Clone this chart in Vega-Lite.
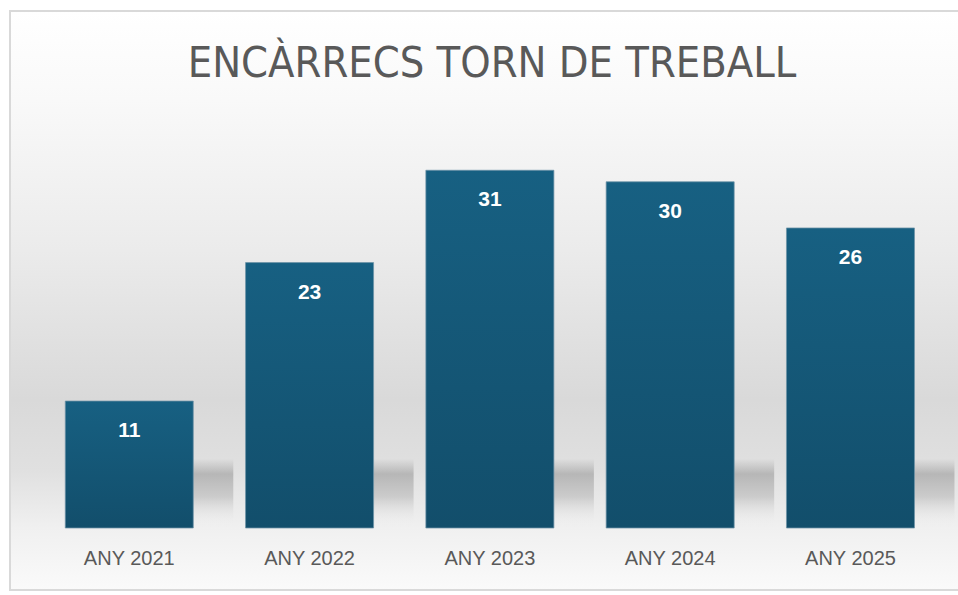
{
  "$schema": "https://vega.github.io/schema/vega-lite/v6.json",
  "width": 958,
  "height": 579,
  "autosize": {"type": "none"},
  "padding": {"left": 10, "top": 11, "right": -10, "bottom": 5},
  "background": "#ffffff",
  "title": {
    "text": "ENCÀRRECS TORN DE TREBALL",
    "font": "Liberation Sans Narrow, DejaVu Sans Condensed, sans-serif",
    "fontSize": 43,
    "fontWeight": "normal",
    "color": "#595959",
    "anchor": "middle",
    "frame": "group",
    "baseline": "alphabetic",
    "offset": -109,
    "dx": 3
  },
  "data": {
    "values": [
      {"year": "ANY 2021", "value": 11},
      {"year": "ANY 2022", "value": 23},
      {"year": "ANY 2023", "value": 31},
      {"year": "ANY 2024", "value": 30},
      {"year": "ANY 2025", "value": 26}
    ]
  },
  "config": {
    "view": {
      "stroke": "#d9d9d9",
      "strokeWidth": 2,
      "fill": {
        "gradient": "linear",
        "x1": 0, "y1": 0, "x2": 0, "y2": 1,
        "stops": [
          {"offset": 0, "color": "#ffffff"},
          {"offset": 0.154, "color": "#f9f9f9"},
          {"offset": 0.413, "color": "#ebebeb"},
          {"offset": 0.672, "color": "#d9d9d9"},
          {"offset": 0.793, "color": "#e0e0e0"},
          {"offset": 0.893, "color": "#f0f0f0"},
          {"offset": 1, "color": "#fafafa"}
        ]
      }
    }
  },
  "encoding": {
    "x": {
      "field": "year",
      "type": "nominal",
      "sort": null,
      "scale": {"paddingInner": 0.29, "paddingOuter": 0.3017, "align": 0.508},
      "axis": {
        "title": null,
        "domain": false,
        "ticks": false,
        "grid": false,
        "labelAngle": 0,
        "labelFont": "Liberation Sans",
        "labelFontSize": 20,
        "labelColor": "#595959",
        "labelPadding": 0,
        "labelBaseline": "alphabetic",
        "offset": -26
      }
    }
  },
  "layer": [
    {
      "mark": {
        "type": "bar",
        "xOffset": 40,
        "fill": {
          "gradient": "linear",
          "x1": 0, "y1": 0, "x2": 0, "y2": 1,
          "stops": [
            {"offset": 0, "color": "rgba(175,175,175,0)"},
            {"offset": 0.22, "color": "rgba(175,175,175,0.85)"},
            {"offset": 0.55, "color": "rgba(185,185,185,0.6)"},
            {"offset": 0.9, "color": "rgba(235,235,235,0.1)"},
            {"offset": 1, "color": "rgba(235,235,235,0)"}
          ]
        }
      },
      "encoding": {
        "y": {"datum": 6, "type": "quantitative", "scale": {"domain": [-5.373, 44.8], "nice": false, "zero": false}, "axis": null},
        "y2": {"datum": 0}
      }
    },
    {
      "mark": {
        "type": "bar",
        "stroke": "#6d93a7",
        "strokeWidth": 0.75,
        "fill": {
          "gradient": "linear",
          "x1": 0, "y1": 0, "x2": 0, "y2": 1,
          "stops": [
            {"offset": 0, "color": "#176082"},
            {"offset": 1, "color": "#124e6b"}
          ]
        }
      },
      "encoding": {
        "y": {"field": "value", "type": "quantitative", "scale": {"domain": [-5.373, 44.8], "nice": false, "zero": false}, "axis": null}
      }
    },
    {
      "mark": {
        "type": "text",
        "color": "#ffffff",
        "font": "Liberation Sans",
        "fontWeight": "bold",
        "fontSize": 21,
        "baseline": "alphabetic",
        "dy": 36
      },
      "encoding": {
        "y": {"field": "value", "type": "quantitative"},
        "text": {"field": "value", "type": "quantitative"}
      }
    }
  ]
}
